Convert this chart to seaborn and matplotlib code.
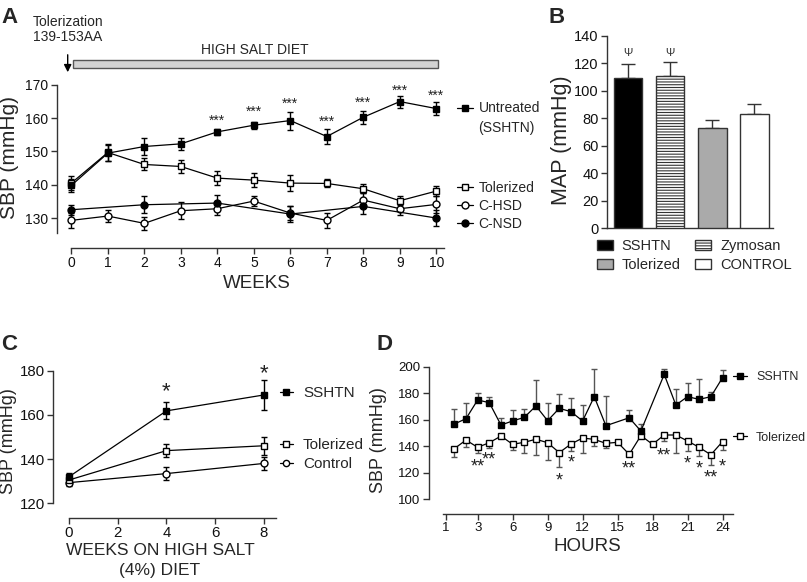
import matplotlib
matplotlib.use("Agg")
import matplotlib.pyplot as plt
import seaborn as sns
from matplotlib.lines import Line2D
from matplotlib.patches import Patch, Rectangle

sns.set_style("ticks")
plt.rcParams['font.family'] = ['Liberation Sans', 'DejaVu Sans']
plt.rcParams['hatch.linewidth'] = 0.8

# ---- Panel A: SBP over weeks of high salt diet
weeks = list(range(11))
untreated = [139.8, 149.5, 151.5, 152.3, 155.9, 157.9, 159.3, 154.5, 160.3, 165.0, 162.9]
untreated_err = [2.0, 2.5, 2.5, 1.8, 0.8, 1.0, 2.7, 2.3, 2.0, 1.8, 2.0]
tolerized_a = [140.5, 149.7, 146.1, 145.5, 142.0, 141.4, 140.5, 140.4, 138.8, 135.2, 138.1]
tolerized_a_err = [2.0, 2.5, 1.8, 2.0, 2.0, 2.0, 2.3, 1.2, 1.3, 1.3, 1.5]
chsd = [129.3, 130.6, 128.4, 132.2, 132.8, 135.1, 131.5, 129.3, 135.4, 132.8, 134.1]
chsd_err = [2.2, 1.8, 2.0, 2.5, 2.0, 1.5, 2.0, 2.3, 2.0, 2.0, 2.5]
cnsd_weeks = [0, 2, 4, 6, 8, 10]
cnsd = [132.5, 134.0, 134.5, 131.2, 133.5, 130.0]
cnsd_err = [1.5, 2.5, 2.5, 2.3, 2.3, 2.5]
star_weeks = [4, 5, 6, 7, 8, 9, 10]
star_y_a = [159.8, 162.5, 165.0, 159.5, 165.3, 168.8, 167.5]

# ---- Panel B: MAP bars
groups = ['SSHTN', 'Zymosan', 'Tolerized', 'CONTROL']
map_vals = [109, 111, 72.5, 83]
map_err = [10.5, 10.0, 6.0, 7.0]
bar_colors = ['black', 'white', '#aaaaaa', 'white']
psi_y = 127.5

# ---- Panel C: weeks on high salt (4%) diet
weeks_c = [0, 4, 8]
sshtn_c = [132.0, 161.8, 169.0]
sshtn_c_err = [1.5, 3.8, 7.0]
tol_c = [130.5, 143.8, 146.0]
tol_c_err = [1.5, 3.0, 4.0]
ctrl_c = [129.3, 133.4, 138.0]
ctrl_c_err = [1.5, 3.0, 3.0]
star_weeks_c = [4, 8]
star_y_c = [172.0, 180.3]

# ---- Panel D: 24 hour SBP
hours_s = [1, 2, 3, 4, 5, 6, 7, 8, 9, 10, 11, 12, 13, 14, 16, 17, 19, 20, 21, 22, 23, 24]
sbp_s = [156.8, 160.8, 174.9, 172.9, 156.0, 159.1, 161.8, 170.4, 159.3, 168.6, 166.1,
         159.1, 177.4, 155.5, 161.5, 151.5, 194.2, 171.1, 177.4, 175.4, 177.4, 191.7]
sbp_s_err = [11.3, 11.6, 5.0, 4.0, 5.1, 8.3, 6.3, 19.6, 13.1, 10.6, 10.5,
             12.0, 20.6, 22.4, 5.9, 5.3, 3.8, 12.1, 10.1, 15.1, 3.8, 5.8]
hours_t = list(range(1, 25))
sbp_t = [138.2, 144.7, 139.2, 142.7, 147.7, 141.5, 143.0, 145.3, 142.7, 135.2, 141.7, 146.2,
         145.2, 142.2, 143.0, 133.9, 148.0, 141.5, 148.5, 148.5, 144.0, 139.2, 133.6, 143.5]
sbp_t_err = [6.1, 5.5, 4.0, 4.2, 0, 4.3, 7.8, 11.9, 13.0, 11.1, 5.3, 11.5,
             5.0, 3.7, 0, 0, 0, 0, 4.5, 13.6, 7.6, 6.5, 8.0, 6.3]
star_hours = [3, 4, 10, 11, 16, 19, 21, 22, 23, 24]
star_txt = ['**', '**', '*', '*', '**', '**', '*', '*', '**', '*']
star_y_d = [127.9, 133.4, 117.8, 130.9, 126.4, 136.7, 130.4, 126.6, 120.1, 128.4]
hour_ticks = [0.3, 3, 6, 9, 12, 15, 18, 21, 24]
hour_labels = ['1', '3', '6', '9', '12', '15', '18', '21', '24']

AX = '#333333'


def style_axis(ax, ybounds, xbounds, size=10.5):
    sns.despine(ax=ax)
    for s in ['left', 'bottom']:
        ax.spines[s].set_color(AX)
        ax.spines[s].set_linewidth(1.0)
    ax.spines['left'].set_bounds(*ybounds)
    if xbounds is not None:
        ax.spines['bottom'].set_bounds(*xbounds)
    ax.tick_params(direction='out', length=4, width=1, color=AX, labelsize=size,
                   labelcolor='#111111', pad=2)


def series(ax, x, y, err, marker, face, ms=5, lw=0.9, ecol='black'):
    ax.errorbar(x, y, yerr=err, fmt='none', ecolor=ecol, elinewidth=1,
                capsize=2.5, capthick=1, zorder=3)
    sns.lineplot(x=x, y=y, ax=ax, color='black', marker=marker, markersize=ms,
                 markerfacecolor=face, markeredgecolor='black', markeredgewidth=1,
                 linewidth=lw, errorbar=None, zorder=5)


def handle(marker, face, ms=5):
    return Line2D([], [], color='black', lw=0.9, marker=marker, markersize=ms,
                  markerfacecolor=face, markeredgecolor='black')


def stars(ax, xs, ys, txt, size, dy):
    for x, yv, t in zip(xs, ys, txt):
        ax.annotate(t, (x, yv), xytext=(0, dy), textcoords='offset points',
                    ha='center', va='center', fontsize=size, color='#222222',
                    annotation_clip=False)


fig = plt.figure(figsize=(8.07, 5.82), dpi=100)
W, H = 807.0, 582.0


def fx(px):
    return px / W


def fy(py):
    return 1 - py / H


# ================= A =================
axa = fig.add_axes([0.0703, 0.5739, 0.4794, 0.283])
series(axa, weeks, chsd, chsd_err, 'o', 'white')
series(axa, cnsd_weeks, cnsd, cnsd_err, 'o', 'black')
series(axa, weeks, tolerized_a, tolerized_a_err, 's', 'white')
series(axa, weeks, untreated, untreated_err, 's', 'black')
stars(axa, star_weeks, star_y_a, ['***'] * len(star_weeks), 10, -1.5)
axa.set_xlim(-0.4, 10.2)
axa.set_ylim(121, 170.5)
axa.set_xticks(weeks)
axa.set_yticks([130, 140, 150, 160, 170])
style_axis(axa, (125.5, 170), (0, 10.2), size=10)
axa.set_xlabel('WEEKS', fontsize=13.5)
axa.xaxis.set_label_coords(0.517, -0.215)
axa.xaxis.label.set_va('center')
axa.set_ylabel('SBP (mmHg)', fontsize=15)
axa.yaxis.set_label_coords(-0.123, 0.549)
axa.yaxis.label.set_va('center')

fig.legend(handles=[handle('s', 'black')], labels=['Untreated'], loc='upper left',
           bbox_to_anchor=(fx(457), fy(101.5)), frameon=False, fontsize=10,
           handlelength=1.15, handletextpad=0.4, borderpad=0, borderaxespad=0)
fig.text(fx(478), fy(128), '(SSHTN)', fontsize=10, va='center')
fig.legend(handles=[handle('s', 'white'), handle('o', 'white'), handle('o', 'black')],
           labels=['Tolerized', 'C-HSD', 'C-NSD'], loc='upper left',
           bbox_to_anchor=(fx(457), fy(180.5)), frameon=False, fontsize=10,
           handlelength=1.15, handletextpad=0.4, labelspacing=0.3,
           borderpad=0, borderaxespad=0)

fig.text(0.002, fy(22.7), 'A', fontsize=16, fontweight='bold', va='baseline')
fig.text(fx(33), fy(26), 'Tolerization', fontsize=10, va='baseline')
fig.text(fx(33), fy(41), '139-153AA', fontsize=10, va='baseline')
fig.text(fx(255), fy(54), 'HIGH SALT DIET', fontsize=10, ha='center', va='baseline')
fig.add_artist(Rectangle((fx(73.3), fy(68.3)), fx(438.3) - fx(73.3), 8.3 / H,
                         transform=fig.transFigure, facecolor='#d3d3d3',
                         edgecolor='#555555', lw=1))
axa.annotate('', xy=(fx(67.7), fy(75)), xytext=(fx(67.7), fy(52)),
             xycoords='figure fraction', textcoords='figure fraction',
             arrowprops=dict(arrowstyle='-|>', color='black', lw=1, mutation_scale=11))

# ================= B =================
axb = fig.add_axes([0.7522, 0.6082, 0.2057, 0.3304])
sns.barplot(x=groups, y=map_vals, hue=groups, palette=bar_colors, edgecolor=AX,
            linewidth=1, width=0.675, ax=axb, legend=False, errorbar=None,
            saturation=1, zorder=3)
axb.patches[1].set_hatch('------')
axb.errorbar(range(len(groups)), map_vals, yerr=[[0] * 4, map_err], fmt='none',
             ecolor=AX, elinewidth=1, capsize=5, capthick=1, zorder=2)
for i in range(2):
    axb.text(i, psi_y, 'Ψ', ha='center', va='center', fontsize=8, color='#333333')
axb.set_xlim(-0.5, 3.44)
axb.set_ylim(0, 140)
axb.set_yticks(range(0, 141, 20))
axb.set_xticks([])
style_axis(axb, (0, 140), None, size=10.5)
axb.set_xlabel('')
axb.set_ylabel('MAP (mmHg)', fontsize=15.5)
axb.yaxis.set_label_coords(-0.273, 0.458)
axb.yaxis.label.set_va('center')
leg_b = [Patch(facecolor=c, edgecolor=AX, hatch=('------' if g == 'Zymosan' else None))
         for g, c in zip(groups, bar_colors)]
order = [0, 2, 1, 3]
fig.legend(handles=[leg_b[i] for i in order], labels=[groups[i] for i in order],
           loc='upper left', bbox_to_anchor=(fx(597), fy(239)), ncol=2,
           frameon=False, fontsize=10.5, handlelength=1.1, handleheight=0.7,
           handletextpad=0.6, columnspacing=1.0, labelspacing=0.37,
           borderpad=0, borderaxespad=0)
fig.text(fx(548), fy(22.7), 'B', fontsize=16, fontweight='bold', va='baseline')

# ================= C =================
axc = fig.add_axes([0.0657, 0.11, 0.2763, 0.2531])
series(axc, weeks_c, ctrl_c, ctrl_c_err, 'o', 'white')
series(axc, weeks_c, tol_c, tol_c_err, 's', 'white')
series(axc, weeks_c, sshtn_c, sshtn_c_err, 's', 'black')
stars(axc, star_weeks_c, star_y_c, ['*', '*'], 16, -2.5)
axc.set_xlim(-0.66, 8.5)
axc.set_ylim(113.3, 180)
axc.set_xticks([0, 2, 4, 6, 8])
axc.set_yticks([120, 140, 160, 180])
style_axis(axc, (120, 180), (0, 8.5), size=10.8)
axc.set_xlabel('WEEKS ON HIGH SALT\n(4%) DIET', fontsize=12.5, linespacing=1.45)
axc.xaxis.set_label_coords(0.48, -0.29)
axc.xaxis.label.set_va('center')
axc.set_ylabel('SBP (mmHg)', fontsize=13)
axc.yaxis.set_label_coords(-0.20, 0.524)
axc.yaxis.label.set_va('center')
fig.legend(handles=[handle('s', 'black')], labels=['SSHTN'], loc='upper left',
           bbox_to_anchor=(fx(280), fy(386.4)), frameon=False, fontsize=11,
           handlelength=0.85, handletextpad=0.65, borderpad=0, borderaxespad=0)
fig.legend(handles=[handle('s', 'white'), handle('o', 'white', 4.5)],
           labels=['Tolerized', 'Control'], loc='upper left',
           bbox_to_anchor=(fx(280), fy(438.4)), frameon=False, fontsize=11,
           handlelength=0.85, handletextpad=0.65, labelspacing=0.3,
           borderpad=0, borderaxespad=0)
fig.text(0.002, fy(350), 'C', fontsize=16, fontweight='bold', va='baseline')

# ================= D =================
axd = fig.add_axes([0.5312, 0.1168, 0.3771, 0.2531])
axd.errorbar(hours_t, sbp_t, yerr=[sbp_t_err, [0] * len(sbp_t)], fmt='none',
             ecolor='#555555', elinewidth=1, capsize=2.5, capthick=1, zorder=3)
axd.errorbar(hours_s, sbp_s, yerr=[[0] * len(sbp_s), sbp_s_err], fmt='none',
             ecolor='#555555', elinewidth=1, capsize=2.5, capthick=1, zorder=3)
sns.lineplot(x=hours_t, y=sbp_t, ax=axd, color='black', marker='s', markersize=4.5,
             markerfacecolor='white', markeredgecolor='black', markeredgewidth=1,
             linewidth=0.9, errorbar=None, zorder=5)
sns.lineplot(x=hours_s, y=sbp_s, ax=axd, color='black', marker='s', markersize=4.5,
             markerfacecolor='black', markeredgecolor='black', markeredgewidth=1,
             linewidth=0.9, errorbar=None, zorder=6)
stars(axd, star_hours, star_y_d, star_txt, 13, -3.5)
axd.set_xlim(-1.2, 24.9)
axd.set_ylim(88.9, 200)
axd.set_xticks(hour_ticks)
axd.set_xticklabels(hour_labels)
axd.set_yticks(range(100, 201, 20))
style_axis(axd, (100, 200), (0.03, 24.9), size=9.5)
axd.set_xlabel('HOURS', fontsize=13.5)
axd.xaxis.set_label_coords(0.522, -0.222)
axd.xaxis.label.set_va('center')
axd.set_ylabel('SBP (mmHg)', fontsize=13)
axd.yaxis.set_label_coords(-0.165, 0.502)
axd.yaxis.label.set_va('center')
fig.legend(handles=[handle('s', 'black', 4.5), handle('s', 'white', 4.5)],
           labels=['SSHTN', 'Tolerized'], loc='upper left',
           bbox_to_anchor=(fx(733), fy(371.5)), frameon=False, fontsize=9,
           handlelength=1.1, handletextpad=0.75, labelspacing=3.85,
           borderpad=0, borderaxespad=0)
fig.text(fx(377), fy(350), 'D', fontsize=16, fontweight='bold', va='baseline')

fig.savefig('out.png', dpi=100)
